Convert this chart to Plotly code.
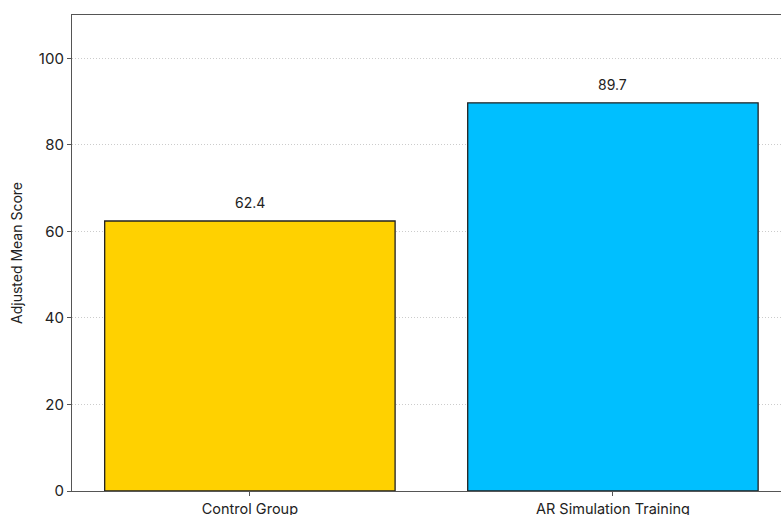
import plotly.graph_objects as go

categories = ["Control Group", "AR Simulation Training"]
scores = [62.4, 89.7]
colors = ["#FFD100", "#00BFFF"]
y_ticks = [0, 20, 40, 60, 80, 100]

fig = go.Figure()
fig.add_trace(go.Bar(
    x=[0, 1], y=scores,
    width=0.8,
    marker=dict(color=colors, line=dict(color="#222222", width=1.3)),
))
for i, v in enumerate(scores):
    fig.add_annotation(x=i, y=v, text=f"{v:.1f}", showarrow=False,
                       yanchor="bottom", yshift=8,
                       font=dict(size=14, color="#222222"))

fig.update_layout(
    width=781, height=515,
    margin=dict(l=72, r=0, t=15, b=24, autoexpand=False),
    paper_bgcolor="white", plot_bgcolor="white",
    font=dict(family="Inter, Roboto, sans-serif", size=14, color="#222222"),
    showlegend=False,
)
fig.update_xaxes(
    range=[-0.49, 1.463],
    tickvals=[0, 1], ticktext=categories,
    ticks="outside", ticklen=4, tickcolor="#555555",
    showline=True, linecolor="#555555", linewidth=1.2, mirror=True,
    showgrid=False, zeroline=False, automargin=False,
    tickfont=dict(size=14.5),
)
fig.update_yaxes(
    range=[0, 110],
    tickvals=y_ticks,
    ticks="outside", ticklen=4, tickcolor="#555555",
    showline=True, linecolor="#555555", linewidth=1.2,
    showgrid=True, gridcolor="#cccccc", griddash="1px,2px", gridwidth=1,
    zeroline=False, automargin=False,
    title=dict(text="Adjusted Mean Score", font=dict(size=14), standoff=12),
    tickfont=dict(size=15),
)

fig.write_html("out.html")
